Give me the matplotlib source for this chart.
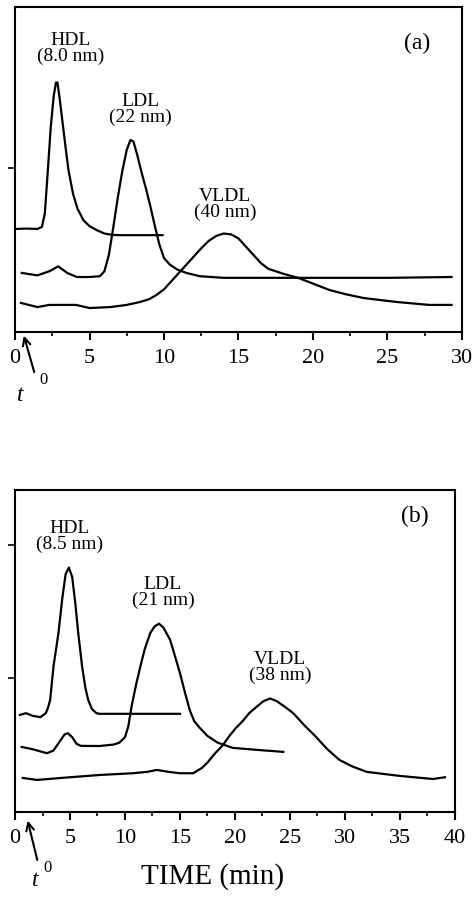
import matplotlib
matplotlib.use("Agg")
from matplotlib import pyplot as plt
from matplotlib.ticker import MultipleLocator

plt.rcParams['font.family'] = ['Liberation Serif', 'DejaVu Serif']

## data, panel (a)
a_hdl_t = [0.05, 0.8, 1.5, 1.8, 2.0, 2.2, 2.4, 2.6, 2.75, 2.85, 3.0, 3.2, 3.4, 3.6, 3.9, 4.2, 4.6, 5.0, 5.5,
           6.0, 6.5, 7.0, 8.0, 9.0, 9.9]
a_hdl_y = [0.628, 0.63, 0.628, 0.64, 0.72, 0.98, 1.25, 1.44, 1.52, 1.52, 1.42, 1.27, 1.12, 0.98, 0.84, 0.75,
           0.68, 0.645, 0.62, 0.60, 0.592, 0.59, 0.59, 0.59, 0.59]

a_ldl_t = [0.45, 1.5, 2.3, 2.9, 3.5, 4.15, 5.0, 5.7, 6.0, 6.3, 6.6, 6.9, 7.2, 7.5, 7.75, 7.95, 8.2, 8.5, 8.8,
           9.1, 9.4, 9.7, 10.0, 10.4, 10.9, 11.5, 12.4, 14.0, 20.0, 25.0, 29.3]
a_ldl_y = [0.36, 0.345, 0.37, 0.40, 0.36, 0.335, 0.335, 0.34, 0.37, 0.47, 0.64, 0.82, 0.98, 1.11, 1.17, 1.16,
           1.08, 0.97, 0.87, 0.76, 0.64, 0.53, 0.45, 0.41, 0.38, 0.36, 0.34, 0.33, 0.33, 0.33, 0.335]

a_vldl_t = [0.4, 1.5, 2.3, 4.1, 5.0, 6.4, 7.5, 8.4, 9.0, 9.5, 10.0, 10.5, 11.0, 11.5, 12.0, 12.5, 13.0, 13.5,
            14.0, 14.5, 15.0, 15.5, 16.0, 16.5, 17.0, 18.0, 19.0, 20.0, 21.1, 22.2, 23.4, 25.6, 27.8, 29.3]
a_vldl_y = [0.177, 0.152, 0.165, 0.165, 0.146, 0.152, 0.165, 0.183, 0.20, 0.226, 0.26, 0.31, 0.36, 0.41, 0.46,
            0.51, 0.555, 0.585, 0.60, 0.595, 0.57, 0.52, 0.47, 0.42, 0.385, 0.355, 0.33, 0.295, 0.256, 0.23,
            0.207, 0.183, 0.165, 0.165]

## data, panel (b)
b_hdl_t = [0.45, 1.0, 1.6, 2.3, 2.8, 3.0, 3.2, 3.5, 3.95, 4.3, 4.6, 4.9, 5.2, 5.5, 5.75, 6.1, 6.4, 6.65, 7.0,
           7.4, 7.7, 9.0, 12.0, 15.0]
b_hdl_y = [0.727, 0.74, 0.72, 0.71, 0.74, 0.78, 0.84, 1.09, 1.34, 1.6, 1.78, 1.83, 1.76, 1.55, 1.34, 1.09,
           0.93, 0.84, 0.77, 0.74, 0.735, 0.735, 0.735, 0.735]

b_ldl_t = [0.6, 1.6, 2.9, 3.5, 4.0, 4.5, 4.8, 5.2, 5.6, 6.0, 7.7, 9.0, 9.5, 10.0, 10.3, 10.6, 11.0, 11.4, 11.8,
           12.3, 12.7, 13.1, 13.5, 14.1, 14.5, 15.0, 15.5, 15.9, 16.3, 16.8, 17.5, 18.4, 19.8, 22.0, 24.4]
b_ldl_y = [0.487, 0.47, 0.44, 0.46, 0.52, 0.58, 0.59, 0.56, 0.51, 0.495, 0.494, 0.505, 0.52, 0.56, 0.64, 0.79,
           0.95, 1.09, 1.22, 1.34, 1.39, 1.41, 1.38, 1.29, 1.18, 1.04, 0.88, 0.76, 0.68, 0.63, 0.57, 0.52, 0.48,
           0.465, 0.45]

b_vldl_t = [0.7, 2.0, 5.0, 7.7, 10.7, 12.0, 12.9, 14.0, 15.0, 16.2, 17.0, 17.5, 18.2, 18.9, 19.5, 20.1, 20.7,
            21.3, 22.0, 22.6, 23.2, 23.8, 24.5, 25.3, 26.3, 27.4, 28.4, 29.5, 30.7, 32.0, 35.0, 38.0, 39.1]
b_vldl_y = [0.255, 0.24, 0.26, 0.277, 0.29, 0.30, 0.315, 0.30, 0.29, 0.29, 0.33, 0.37, 0.44, 0.50, 0.57, 0.63,
            0.68, 0.74, 0.79, 0.83, 0.85, 0.83, 0.79, 0.74, 0.65, 0.56, 0.47, 0.39, 0.34, 0.30, 0.27, 0.247, 0.26]

a_labels = [("HDL\n(8.0 nm)", 3.7, 1.73), ("LDL\n(22 nm)", 8.4, 1.355), ("VLDL\n(40 nm)", 14.1, 0.775)]
b_labels = [("HDL\n(8.5 nm)", 5.0, 2.06), ("LDL\n(21 nm)", 13.45, 1.64), ("VLDL\n(38 nm)", 24.1, 1.085)]


def style_axis(ax, xmax, ymax, yticks):
    ax.set_xlim(0, xmax)
    ax.set_ylim(0, ymax)
    ax.xaxis.set_major_locator(MultipleLocator(5))
    ax.xaxis.set_minor_locator(MultipleLocator(2.5))
    ax.set_yticks(yticks)
    ax.set_yticklabels([])
    ax.tick_params(axis='x', which='major', length=6, width=1.5, pad=6, labelsize=16)
    ax.tick_params(axis='x', which='minor', length=3, width=1.2)
    ax.tick_params(axis='y', length=5, width=1.2)
    for s in ax.spines.values():
        s.set_linewidth(1.5)


def draw_panel(ax, curves, labels, tag, tag_xy, xmax, ymax, yticks):
    for t, y in curves:
        ax.plot(t, y, color='black', lw=1.6, solid_joinstyle='round')
    for txt, x, y in labels:
        ax.text(x, y, txt, ha='center', va='center', fontsize=14, linespacing=0.9)
    ax.text(tag_xy[0], tag_xy[1], tag, ha='center', va='center', fontsize=17)
    style_axis(ax, xmax, ymax, yticks)


def main():
    fig = plt.figure(figsize=(4.75, 8.99), dpi=100)

    ax1 = fig.add_axes([0.0316, 0.6307, 0.941, 0.3615])
    draw_panel(ax1, [(a_hdl_t, a_hdl_y), (a_ldl_t, a_ldl_y), (a_vldl_t, a_vldl_y)],
               a_labels, "(a)", (27.0, 1.76), 30, 1.98, [1])
    ax1.annotate("", xy=(0.54, -0.006), xytext=(1.34, -0.26), annotation_clip=False,
                 arrowprops=dict(arrowstyle='->', lw=1.5, color='black', mutation_scale=14))
    ax1.text(0.34, -0.384, "t", fontsize=17, style='italic', ha='center', va='center', clip_on=False)
    ax1.text(1.88, -0.29, "0", fontsize=12, ha='center', va='center', clip_on=False)

    ax2 = fig.add_axes([0.0316, 0.0968, 0.926, 0.358])
    draw_panel(ax2, [(b_hdl_t, b_hdl_y), (b_ldl_t, b_ldl_y), (b_vldl_t, b_vldl_y)],
               b_labels, "(b)", (36.4, 2.21), 40, 2.41, [1, 2])
    ax2.annotate("", xy=(1.09, -0.045), xytext=(2.09, -0.38), annotation_clip=False,
                 arrowprops=dict(arrowstyle='->', lw=1.5, color='black', mutation_scale=14))
    ax2.text(1.82, -0.51, "t", fontsize=17, style='italic', ha='center', va='center', clip_on=False)
    ax2.text(3.0, -0.42, "0", fontsize=12, ha='center', va='center', clip_on=False)
    ax2.set_xlabel("TIME (min)", fontsize=21)
    ax2.xaxis.set_label_coords(0.448, -0.16)

    fig.savefig("out.png", dpi=100)


if __name__ == '__main__':
    main()
